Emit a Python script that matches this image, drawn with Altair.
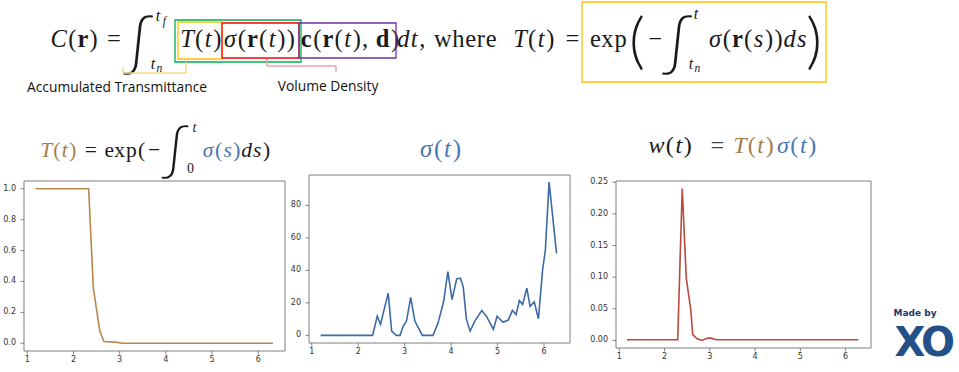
import altair as alt
import pandas as pd

W, H = 959, 372

# ---------------- data ----------------
t_T = [1.18, 2.33, 2.43, 2.57, 2.66, 2.95, 3.06, 6.32]
T_vals = [1.0, 1.0, 0.36, 0.08, 0.011, 0.006, 0.0, 0.0]

t_sigma = [1.19, 2.31, 2.41, 2.48, 2.645, 2.72, 2.82, 2.9, 2.97, 3.04,
           3.13, 3.22, 3.38, 3.61, 3.72, 3.84, 3.93, 4.02, 4.12, 4.2,
           4.26, 4.33, 4.41, 4.51, 4.66, 4.76, 4.91, 4.99, 5.12, 5.23,
           5.32, 5.40, 5.47, 5.54, 5.63, 5.70, 5.79, 5.88, 5.97, 6.03,
           6.11, 6.27]
sigma_vals = [0, 0, 11.8, 6.7, 26, 2.6, 0, 0, 5.7, 8.8,
              23.4, 8.8, 0, 0, 7.7, 21, 39.3, 22, 34.8, 35.2,
              30, 9.8, 2.6, 8.8, 15.3, 11.8, 3.7, 11.8, 8.1, 9.4,
              15.3, 12.8, 21.4, 19, 29.1, 17.9, 20.6, 10.2, 40.3, 52.5,
              94.3, 50.5]

t_w = [1.17, 2.29, 2.39, 2.48, 2.58, 2.62, 2.71, 2.82, 2.93, 3.0, 3.15, 6.28]
w_vals = [0.001, 0.001, 0.24, 0.098, 0.048, 0.0095, 0.003, 0.0, 0.003, 0.004, 0.001, 0.001]

x_ticks = [1, 2, 3, 4, 5, 6]
T_ticks = [0.0, 0.2, 0.4, 0.6, 0.8, 1.0]
sigma_ticks = [0, 20, 40, 60, 80]
w_ticks = [0.0, 0.05, 0.10, 0.15, 0.20, 0.25]

label_acc = "Accumulated Transmittance"
label_vol = "Volume Density"
logo_top = "Made by"
logo_letters = ["X", "O"]

# ---------------- styles ----------------
BR = "#a67c4e"
BL = "#4a76b4"
K = "#1a1a1a"
LINE_T = "#b9874c"
LINE_S = "#3b6aa5"
LINE_W = "#b84a3e"
FRAME = "#808080"
TICKC = "#555555"
LABC = "#333333"

# ---------------- math glyph layout (approx. Computer Modern advances) ----------------
CM = {"C": .715, "T": .584, "t": .361, "σ": .571, "s": .469, "d": .52, "w": .716,
      "(": .389, ")": .389, "=": .778, ",": .278, "e": .444, "x": .528, "p": .556,
      "h": .556, "r": .392, "−": .778, " ": .25, "0": .5, "f": .49, "n": .6}
CMB = {"r": .479, "c": .511, "d": .639}

glyphs = []


def run(x, y, size, tokens, color=K):
    for tok in tokens:
        text, style = tok[0], tok[1]
        col = tok[2] if len(tok) > 2 else color
        for ch in text:
            w = (CMB.get(ch, .55) if style == "bf" else CM.get(ch, .55)) * size
            if ch != " ":
                glyphs.append(dict(ch=ch, x=x + w / 2, y=y, size=size, color=col, style=style))
            x += w
    return x


def glyph(ch, x, y, size, style="big", color=K):
    glyphs.append(dict(ch=ch, x=x, y=y, size=size, color=color, style=style))


S = 24.5
BY = 47
# main equation
run(50, BY, S, [("C", "it"), ("(", "rm"), ("r", "bf"), (")", "rm"), (" ", "rm"), ("=", "rm")])
glyph("∫", 138, 64, 60)
run(155, 21, 16, [("t", "it")])
run(161.5, 25, 11.5, [("f", "it")])
run(150, 69, 16, [("t", "it")])
run(156, 72, 11.5, [("n", "it")])
run(180, BY, S, [("T", "it"), ("(", "rm"), ("t", "it"), (")", "rm")])
run(223, BY, S, [("σ", "it"), ("(", "rm"), ("r", "bf"), ("(", "rm"), ("t", "it"), ("))", "rm")])
run(300, BY, S, [("c", "bf"), ("(", "rm"), ("r", "bf"), ("(", "rm"), ("t", "it"), ("),", "rm"),
                 (" ", "rm"), ("d", "bf"), (")", "rm")])
run(397, BY, S, [("dt", "it")])
run(419, BY, S, [(",", "rm")])
run(434, BY, S, [("where", "rm")])
run(513, BY, S, [("T", "it"), ("(", "rm"), ("t", "it"), (")", "rm")])
run(563, BY, S, [("=", "rm")])
run(590, BY, S, [("exp", "rm")])
glyph("(", 637, 62, 62)
run(646, BY, S, [("−", "rm")])
glyph("∫", 677, 64, 60)
run(693, 19, 16, [("t", "it")])
run(688, 69, 16, [("t", "it")])
run(694, 72, 11.5, [("n", "it")])
run(708, BY, S, [("σ", "it"), ("(", "rm"), ("r", "bf"), ("(", "rm"), ("s", "it"), ("))", "rm"), ("ds", "it")])
glyph(")", 814, 62, 62)

# chart 1 title
run(40, 157, 21.5, [("T", "it", BR), ("(", "rm", BR), ("t", "it", BR), (")", "rm", BR), (" ", "rm"),
                    ("=", "rm"), (" ", "rm"), ("exp", "rm"), ("(", "rm"), ("−", "rm")])
glyph("∫", 175, 169, 54)
run(192, 132, 14, [("t", "it")])
run(187, 173, 14, [("0", "rm")])
run(202, 157, 21.5, [("σ", "it", BL), ("(", "rm", BL), ("s", "it", BL), (")", "rm", BL), ("ds", "it"), (")", "rm")])
# chart 2 title
run(419, 157, 25, [("σ", "it", BL), ("(", "rm", BL), ("t", "it", BL), (")", "rm", BL)])
# chart 3 title
run(648, 153, 24, [("w", "it"), ("(", "rm"), ("t", "it"), (")", "rm")])
run(708, 153, 24, [("=", "rm")], color="#444444")
run(733, 153, 24, [("T", "it"), ("(", "rm"), ("t", "it"), (")", "rm")], color=BR)
run(776, 153, 24, [("σ", "it"), ("(", "rm"), ("t", "it"), (")", "rm")], color=BL)

gdf = pd.DataFrame(glyphs)


def text_layer(df, **mark):
    return alt.Chart(df).mark_text(align="center", baseline="alphabetic", **mark).encode(
        x=alt.X("x:Q", scale=None, axis=None),
        y=alt.Y("y:Q", scale=None, axis=None),
        text="ch:N",
        size=alt.Size("size:Q", scale=None, legend=None),
        color=alt.Color("color:N", scale=None, legend=None),
    )


layers = []
layers.append(text_layer(gdf[gdf["style"] == "it"], font="Liberation Serif", fontStyle="italic"))
layers.append(text_layer(gdf[gdf["style"] == "rm"], font="Liberation Serif"))
layers.append(text_layer(gdf[gdf["style"] == "bf"], font="Liberation Serif", fontWeight="bold"))
layers.append(text_layer(gdf[gdf["style"] == "big"], font="Lato", fontWeight=300))

# annotation labels
sans = pd.DataFrame([
    dict(ch=label_acc, x=117, y=92, size=13.8, color="#111111"),
    dict(ch=label_vol, x=328, y=91, size=13.8, color="#111111"),
])
layers.append(text_layer(sans, font="Open Sans"))

logo = pd.DataFrame([
    dict(ch=logo_top, x=915, y=316, size=9, color="#1b3a6b"),
    dict(ch=logo_letters[0], x=910, y=356, size=40, color="#24508a"),
    dict(ch=logo_letters[1], x=938, y=356, size=40, color="#24508a"),
])
layers.append(text_layer(logo, font="DejaVu Sans", fontWeight="bold"))

# coloured boxes
boxes = pd.DataFrame([
    dict(x=175, x2=301, y=20, y2=62, c="#00b050"),
    dict(x=178, x2=222, y=22, y2=59, c="#ffc000"),
    dict(x=222, x2=299, y=23, y2=58, c="#ff0000"),
    dict(x=299, x2=396, y=23, y2=58, c="#7030a0"),
    dict(x=582, x2=826, y=2, y2=82, c="#ffc000"),
])
layers.append(alt.Chart(boxes).mark_rect(filled=False, strokeWidth=1.3).encode(
    x=alt.X("x:Q", scale=None, axis=None), x2="x2:Q",
    y=alt.Y("y:Q", scale=None, axis=None), y2="y2:Q",
    stroke=alt.Stroke("c:N", scale=None, legend=None)))

# brackets
brk = pd.DataFrame([
    dict(x=123, x2=123, y=67, y2=73, c="#f7d88a"),
    dict(x=123, x2=186, y=73, y2=73, c="#f7d88a"),
    dict(x=186, x2=186, y=62, y2=73, c="#f7d88a"),
    dict(x=267, x2=267, y=59, y2=66, c="#f3a3a3"),
    dict(x=267, x2=336, y=66, y2=66, c="#f3a3a3"),
    dict(x=336, x2=336, y=66, y2=72, c="#f3a3a3"),
])
layers.append(alt.Chart(brk).mark_rule(strokeWidth=1.5).encode(
    x=alt.X("x:Q", scale=None, axis=None), x2="x2:Q",
    y=alt.Y("y:Q", scale=None, axis=None), y2="y2:Q",
    color=alt.Color("c:N", scale=None, legend=None)))


# ---------------- panels ----------------
def panel(t, v, color, xdom, ydom, xr, yr, yvals, yfmt):
    df = pd.DataFrame({"t": t, "v": v})
    xs = alt.Scale(domain=xdom, range=xr, nice=False, zero=False)
    ys = alt.Scale(domain=ydom, range=yr, nice=False, zero=False)
    line = alt.Chart(df).mark_line(color=color, strokeWidth=1.6).encode(
        x=alt.X("t:Q", scale=xs, axis=None), y=alt.Y("v:Q", scale=ys, axis=None))
    frame = alt.Chart(pd.DataFrame({"a": [0]})).mark_rect(
        filled=False, stroke=FRAME, strokeWidth=1).encode(
        x=alt.XDatum(xdom[0], axis=None), x2=alt.X2Datum(xdom[1]),
        y=alt.YDatum(ydom[0], axis=None), y2=alt.Y2Datum(ydom[1]))
    ydf = pd.DataFrame({"v": yvals})
    xdf = pd.DataFrame({"t": x_ticks})
    ytk = alt.Chart(ydf).mark_tick(orient="horizontal", size=3.5, thickness=1, xOffset=-1.75,
                                   color=TICKC).encode(
        x=alt.XDatum(xdom[0], axis=None), y=alt.Y("v:Q", axis=None))
    ylab = alt.Chart(ydf).mark_text(align="right", baseline="middle", dx=-8, fontSize=8,
                                    font="DejaVu Sans", color=LABC).encode(
        x=alt.XDatum(xdom[0], axis=None), y=alt.Y("v:Q", axis=None),
        text=alt.Text("v:Q", format=yfmt))
    xtk = alt.Chart(xdf).mark_tick(orient="vertical", size=3.5, thickness=1, yOffset=1.75,
                                   color=TICKC).encode(
        y=alt.YDatum(ydom[0], axis=None), x=alt.X("t:Q", axis=None))
    xlab = alt.Chart(xdf).mark_text(align="center", baseline="top", dy=5, fontSize=8,
                                    font="DejaVu Sans", color=LABC).encode(
        y=alt.YDatum(ydom[0], axis=None), x=alt.X("t:Q", axis=None),
        text=alt.Text("t:Q", format="d"))
    return alt.layer(line, frame, ytk, ylab, xtk, xlab)


p1 = panel(t_T, T_vals, LINE_T, [0.93, 6.58], [-0.05, 1.05], [24, 285], [351, 181], T_ticks, ".1f")
p2 = panel(t_sigma, sigma_vals, LINE_S, [0.94, 6.56], [-4.7, 98.7], [309, 570], [343, 175], sigma_ticks, "d")
p3 = panel(t_w, w_vals, LINE_W, [0.927, 6.56], [-0.012, 0.252], [616, 871], [348, 181], w_ticks, ".2f")

chart = alt.layer(*layers, p1, p2, p3).resolve_scale(
    x="independent", y="independent"
).properties(
    width=W, height=H, autosize=alt.AutoSizeParams(type="none"), padding=0
).configure_view(stroke=None)

chart.save("out.html", embed_options={"renderer": "svg", "actions": False})
